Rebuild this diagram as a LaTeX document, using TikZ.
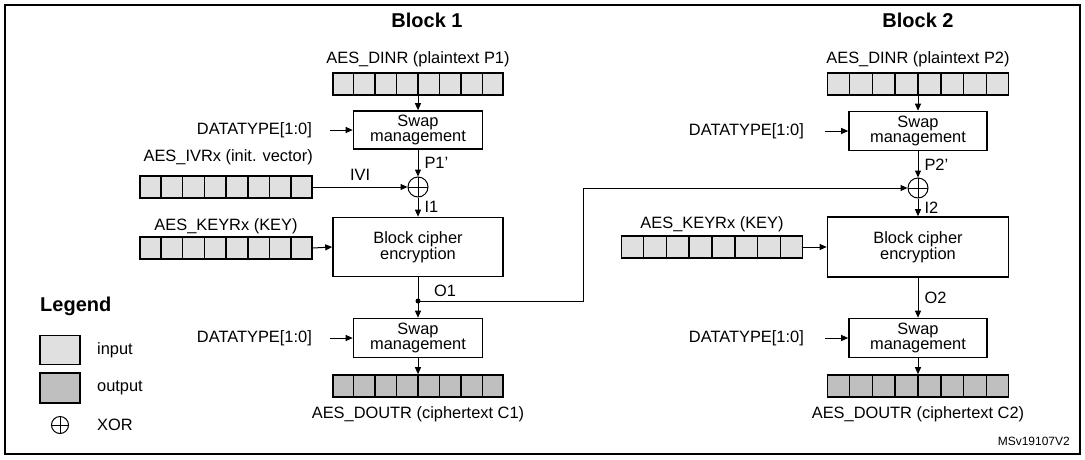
\documentclass[tikz,border=0pt]{standalone}
\usepackage{fontspec}
\setmainfont{Liberation Sans}
\usetikzlibrary{arrows.meta,calc}
\definecolor{inpc}{gray}{0.88}
\definecolor{outc}{gray}{0.75}
\tikzset{
  every node/.style={font=\fontsize{16.4}{17}\selectfont, inner sep=0pt},
  box/.style={draw, line width=1.6pt, fill=white, align=center, font=\fontsize{16.4}{15}\selectfont},
  reg/.style={draw, line width=1.6pt, minimum height=22pt},
  arr/.style={-{Triangle[length=7pt,width=6pt]}, line width=1pt},
  xorc/.style={draw, circle, line width=1pt, minimum size=20pt, path picture={
     \draw[line width=1pt] (path picture bounding box.north) -- (path picture bounding box.south)
       (path picture bounding box.west) -- (path picture bounding box.east);}},
  bold/.style={font=\fontsize{20}{22}\selectfont\bfseries}
}
\newcommand{\cells}[1]{\foreach \k in {1,...,7}{\draw[line width=1.6pt] ($(#1.south west)!\k/8!(#1.south east)$) -- ($(#1.north west)!\k/8!(#1.north east)$);}}
\newcommand{\sq}{\char39}
\begin{document}
\begin{tikzpicture}[x=1pt,y=-1pt]
\useasboundingbox (0,0) rectangle (1085,459);
\draw[line width=2pt] (5,5) -- (1080,5) -- (1080,454) -- (5,454) -- cycle;

% ---------- Block 1
\node[bold] (b1) at (427,20) {Block 1};
\node (din1t) at (418,59) {AES\_DINR (plaintext P1)};
\node[reg, fill=inpc, minimum width=170pt] (din1) at (418,84) {};
\cells{din1}
\node[box, minimum width=129pt, minimum height=38pt] (sw1) at (418,130) {Swap\\management};
\draw[arr] (din1.south) -- (sw1.north);
\node[anchor=east] (dt1) at (312,130) {DATATYPE[1:0]};
\coordinate (dt1a) at (330,130);
\draw[arr] (dt1a) -- (sw1.west);
\node[anchor=east] (ivt) at (313,157) {AES\_IVRx (init. vector)};
\node[reg, fill=inpc, minimum width=172pt] (iv) at (226,187) {};
\cells{iv}
\node[xorc] (x1) at (418,187) {};
\draw[arr] (sw1.south) -- (x1.north) node[pos=0.5, right=6pt] {P1\sq};
\draw[arr] (iv.east) -- (x1.west) node[pos=0.5, above=6pt] {IVI};
\node[box, minimum width=170pt, minimum height=59pt] (bc1) at (418,247) {Block cipher\\encryption};
\draw[arr] (x1.south) -- (bc1.north) node[pos=0.5, right=6pt] {I1};
\node (k1t) at (226,226) {AES\_KEYRx (KEY)};
\node[reg, fill=inpc, minimum width=172pt] (k1) at (226,248) {};
\cells{k1}
\draw[arr] (k1.east) -- (bc1.west);
\node[box, minimum width=129pt, minimum height=39pt] (sw2) at (418,338) {Swap\\management};
\coordinate (o1) at (418,301);
\draw[arr] (bc1.south) -- (sw2.north);
\fill (o1) circle (2.5pt);
\node (o1t) at (445,291) {O1};
\node[anchor=east] (dt2) at (312,338) {DATATYPE[1:0]};
\coordinate (dt2a) at (330,338);
\draw[arr] (dt2a) -- (sw2.west);
\node[reg, fill=outc, minimum width=170pt] (dout1) at (418,386) {};
\cells{dout1}
\draw[arr] (sw2.south) -- (dout1.north);
\node (dout1t) at (418,414) {AES\_DOUTR (ciphertext C1)};

% ---------- Block 2
\node[bold] (b2) at (918,20) {Block 2};
\node (din2t) at (918,59) {AES\_DINR (plaintext P2)};
\node[reg, fill=inpc, minimum width=181pt] (din2) at (918,84) {};
\cells{din2}
\node[box, minimum width=138pt, minimum height=39pt] (sw3) at (918,131) {Swap\\management};
\draw[arr] (din2.south) -- (sw3.north);
\node[anchor=east] (dt3) at (804,131) {DATATYPE[1:0]};
\coordinate (dt3a) at (825,131);
\draw[arr] (dt3a) -- (sw3.west);
\node[xorc] (x2) at (918,188) {};
\draw[arr] (sw3.south) -- (x2.north) node[pos=0.5, right=6pt] {P2\sq};
\coordinate (f1) at (583,301);
\coordinate (f2) at (583,188);
\draw[arr] (o1) -- (f1) -- (f2) -- (x2.west);
\node[box, minimum width=181pt, minimum height=60pt] (bc2) at (918,247) {Block cipher\\encryption};
\draw[arr] (x2.south) -- (bc2.north) node[pos=0.5, right=6pt] {I2};
\node (k2t) at (712,224) {AES\_KEYRx (KEY)};
\node[reg, fill=inpc, minimum width=181pt] (k2) at (712,247) {};
\cells{k2}
\draw[arr] (k2.east) -- (bc2.west);
\node[box, minimum width=138pt, minimum height=39pt] (sw4) at (918,338) {Swap\\management};
\draw[arr] (bc2.south) -- (sw4.north) node[pos=0.5, right=6pt] {O2};
\node[anchor=east] (dt4) at (804,338) {DATATYPE[1:0]};
\coordinate (dt4a) at (825,338);
\draw[arr] (dt4a) -- (sw4.west);
\node[reg, fill=outc, minimum width=181pt] (dout2) at (918,386) {};
\cells{dout2}
\draw[arr] (sw4.south) -- (dout2.north);
\node (dout2t) at (918,414) {AES\_DOUTR (ciphertext C2)};

% ---------- Legend
\node[anchor=west, font=\fontsize{20}{22}\selectfont\bfseries] (lg) at (40,306) {Legend};
\node[draw, line width=1.6pt, fill=inpc, minimum width=40pt, minimum height=29pt] (li) at (60,350) {};
\node[anchor=west] (lit) at (97,350) {input};
\node[draw, line width=1.6pt, fill=outc, minimum width=40pt, minimum height=30pt] (lo) at (60,388) {};
\node[anchor=west] (lot) at (97,388) {output};
\node[xorc, minimum size=17pt] (lx) at (60,425) {};
\node[anchor=west] (lxt) at (97,425) {XOR};

\node[anchor=east, font=\fontsize{12}{13}\selectfont] (ms) at (1070,441) {MSv19107V2};
\end{tikzpicture}
\end{document}
